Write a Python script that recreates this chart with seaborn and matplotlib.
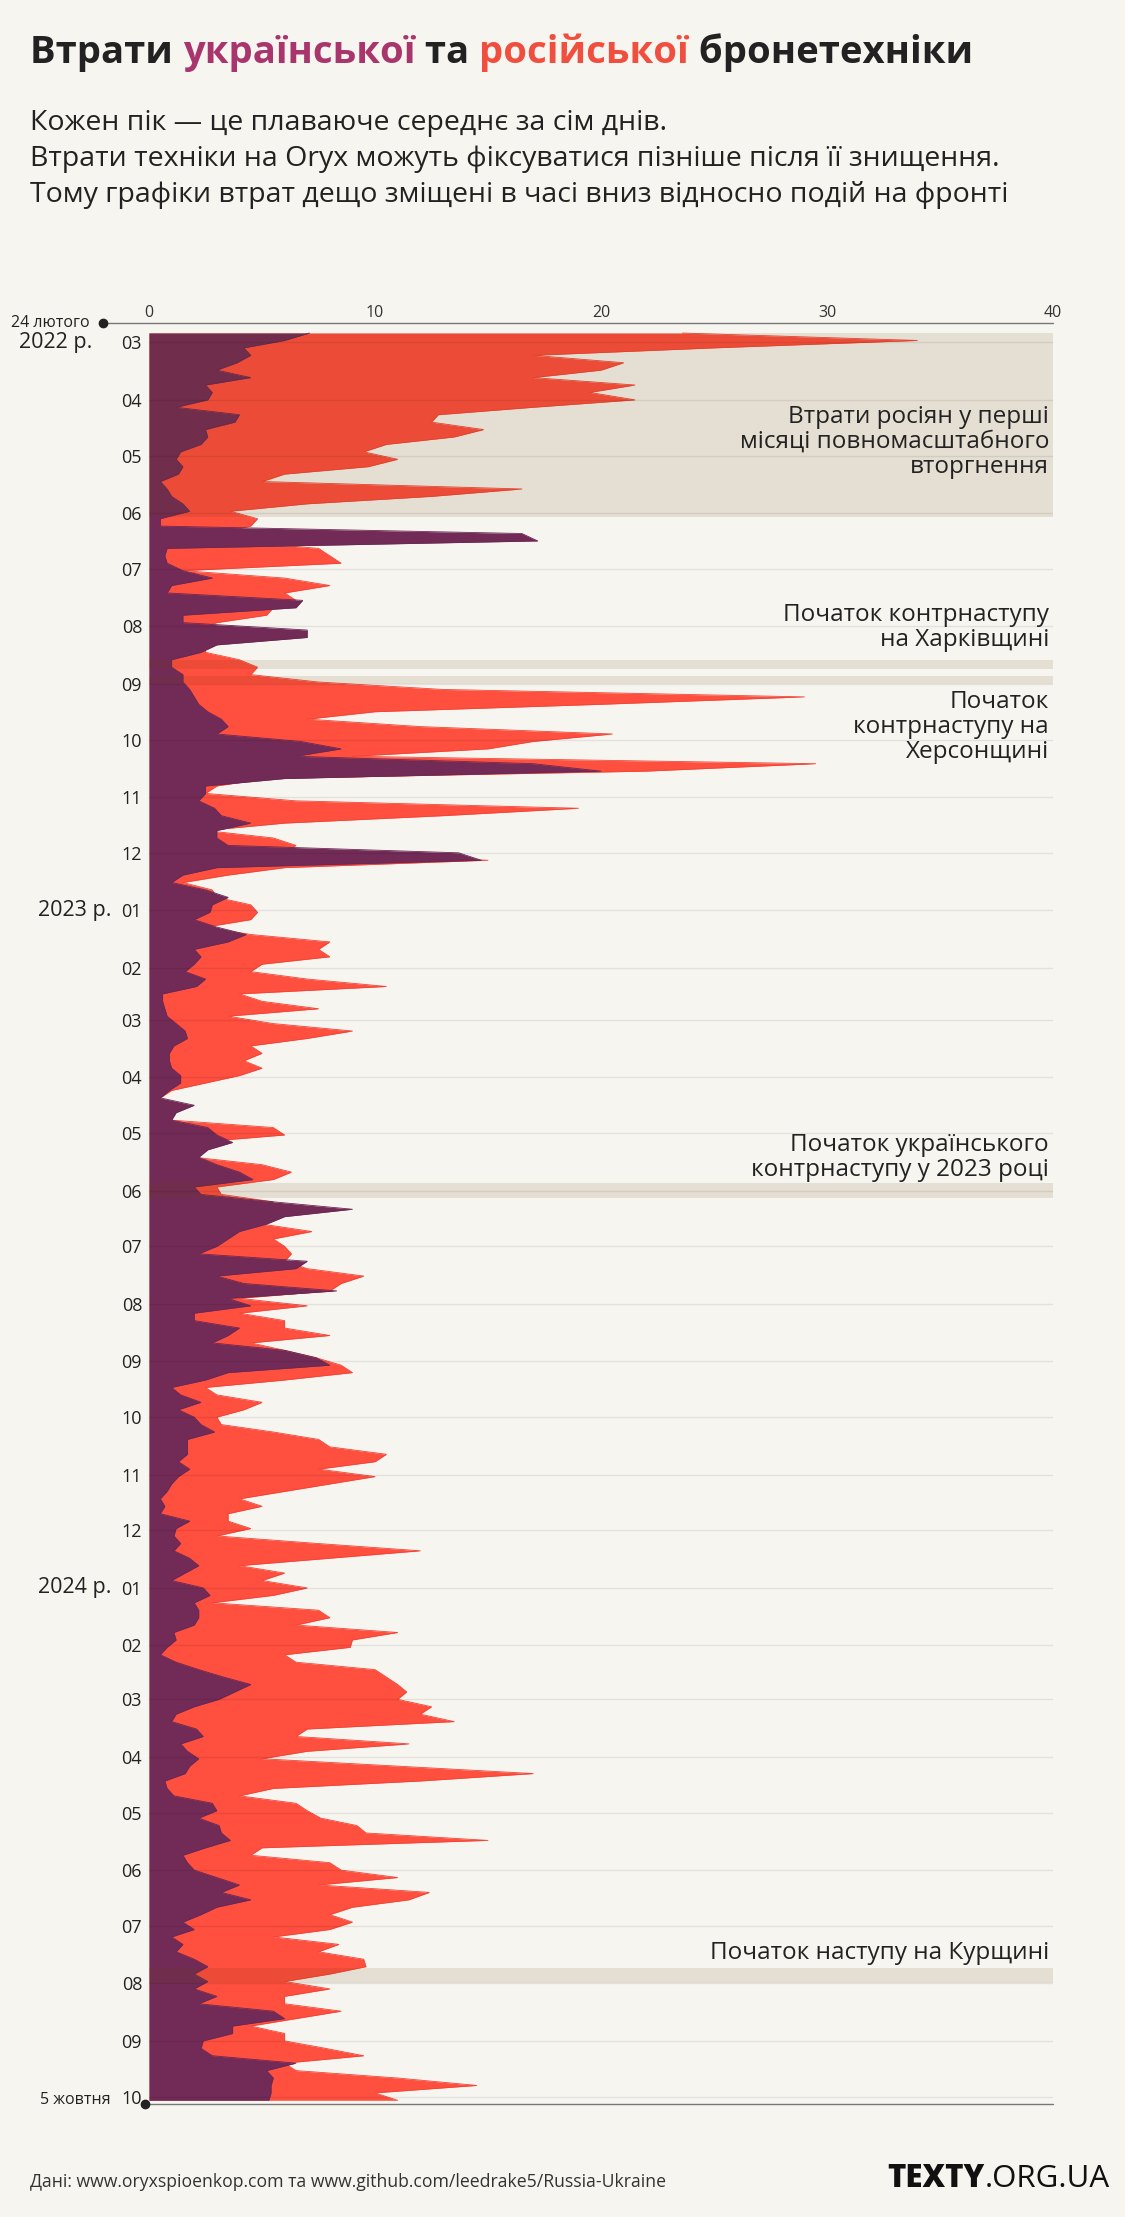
import pandas as pd
import matplotlib
matplotlib.use("Agg")
import matplotlib.pyplot as plt
import matplotlib.dates as mdates
from matplotlib.lines import Line2D
from matplotlib.transforms import blended_transform_factory
import seaborn as sns

# 7-day rolling average of destroyed armour,
# one value every 4 days starting 24 Feb 2022
russia = [
    23.6, 34, 25, 17, 21, 20, 17, 21.5, 19.5, 21.5, 17, 12.8, 12.5, 14.8, 13.5, 10.5,
    9.5, 11, 9.7, 6, 5, 16.5, 12.5, 7, 3.6, 4.8, 4.5, 3, 3.3, 7.5, 8, 8.5,
    1.5, 6, 8, 6, 6.5, 5.5, 5.2, 3, 2, 2, 2.5, 2.5, 4, 4.8, 4.5, 7.5,
    13, 29, 20, 10, 7, 12, 20.5, 17, 15, 9, 29.5, 22, 5.2, 3, 2.5, 6.5,
    19, 13, 6, 2.5, 5.5, 6.5, 6, 15, 6, 3.5, 1.5, 2.8, 3, 4.5, 4.8, 4.5,
    2.5, 4.5, 8, 7.5, 8, 5, 4.5, 7, 10.5, 4, 5, 7.5, 3.5, 5.5, 9, 7,
    4.5, 5, 4.2, 5, 4, 2.5, 1, 0.5, 0.5, 0.5, 1, 5.5, 6, 2, 1.5, 2,
    5, 6.3, 5.5, 3, 3.2, 5.5, 5, 5, 5, 7.2, 5.5, 6, 6.3, 6, 7, 9.5,
    8.5, 8, 4, 7, 4, 6, 6, 8, 4.5, 6, 7.4, 8.5, 9, 6, 2.5, 3,
    5, 4.2, 3, 3.2, 5.5, 7.5, 8, 10.5, 10, 7.5, 10, 8, 6, 4, 5, 3.5,
    3.5, 4.5, 3, 7.4, 12, 8, 4, 6, 5, 7, 5.5, 2.8, 7.5, 8, 6.5, 11,
    9, 8.9, 6, 6.5, 10, 10.5, 11, 11.4, 11, 12.5, 12, 13.5, 7, 6.5, 11.5, 7,
    5, 11, 17, 12, 5.5, 4, 6.5, 7, 7.6, 9.2, 9.6, 15, 5, 4.5, 8, 8.5,
    11, 7.5, 12.4, 11.5, 9, 8, 9, 8, 5.5, 8.4, 7.5, 9.5, 9.6, 8, 6, 8,
    6, 6, 8.5, 6.5, 4.5, 6, 6, 7.8, 9.5, 6, 6.5, 11, 14.5, 10, 11,
]
ukraine = [
    7.1, 6, 4.2, 4.5, 3.9, 3, 4.5, 2.5, 2.8, 2.6, 1.2, 4, 3.8, 2.5, 2.6, 2.3,
    1.4, 1.2, 1.5, 1.3, 0.5, 0.8, 1, 1.5, 1.8, 0.5, 0.5, 16.5, 17.2, 0.8, 0.7, 0.8,
    1.5, 2.8, 1, 0.8, 6.8, 6.5, 1.5, 1.5, 7, 7, 3, 2.3, 1, 1, 1.5, 1.5,
    1.8, 2, 2.2, 2.6, 3.2, 3.5, 3, 6.7, 8.5, 6.5, 17, 20, 6, 2.5, 2.5, 2.2,
    2.9, 3.2, 4.5, 3, 3, 3.5, 13.7, 14.7, 3, 1.5, 1, 2.5, 3.5, 2.8, 2.7, 2,
    3, 4.3, 3.5, 2, 2.3, 2, 1.6, 2.5, 2.1, 0.6, 0.6, 0.7, 0.8, 1.2, 1.6, 1.7,
    1.1, 0.9, 0.9, 1, 1.4, 1.4, 0.9, 0.5, 2, 1.2, 1, 2.6, 3, 3.7, 2.6, 2.2,
    3, 4, 4.6, 2, 2.3, 5.5, 9, 6, 5.2, 4, 3.5, 3, 2.2, 7, 6.5, 3,
    4.2, 8.3, 3.5, 4.5, 2, 2, 4, 3.5, 2.8, 6, 7.4, 8, 3.5, 2.5, 1, 1.4,
    2.3, 1.3, 2, 2.3, 2.9, 1.7, 1.7, 1.7, 1.3, 1.8, 1.3, 1, 0.8, 0.5, 0.7, 0.5,
    1.8, 1.2, 1.1, 1.4, 1.1, 1.8, 2.2, 1.6, 1, 2.4, 2.7, 2, 2.2, 2.2, 2, 1.1,
    1.2, 0.8, 0.5, 1.2, 2.2, 3.3, 4.5, 3.8, 3.1, 2, 1.2, 1, 2.1, 2.4, 1.4, 1.7,
    2.2, 1.8, 1.6, 0.7, 0.8, 1.1, 2.8, 3, 2.2, 3.1, 3.2, 3.6, 2.5, 1.5, 1.7, 2,
    3, 4, 3.2, 4.5, 3, 2.3, 1.5, 2, 1, 1.5, 1.2, 2, 2.6, 2, 2.6, 2,
    3, 2.2, 5.5, 6, 3.7, 3.7, 2.4, 2.3, 2.8, 6.5, 5.2, 5.5, 5.4, 5.4, 5.3,
]
assert len(russia) == len(ukraine)

start = pd.Timestamp("2022-02-24")
end = pd.Timestamp("2024-10-05")
dates = pd.date_range(start, periods=len(russia), freq="4D")
months = pd.date_range("2022-03-01", "2024-10-01", freq="MS")
month_labels = [f"{d.month:02d}" for d in months]
year_labels = [("2022-03-01", "2022 р.", 92), ("2023-01-01", "2023 р.", 111),
               ("2024-01-01", "2024 р.", 111)]
x_ticks = [0, 10, 20, 30, 40]

# highlighted periods
bands = [
    ("2022-02-24", "2022-06-03"),
    ("2022-08-19", "2022-08-24"),
    ("2022-08-28", "2022-09-01"),
    ("2023-05-28", "2023-06-05"),
    ("2024-07-24", "2024-08-01"),
]

BG = "#f7f5f0"
PURPLE = "#722b57"
RED = "#ff4f3f"
TXT = "#222222"

sns.set_style("white", {"axes.facecolor": BG, "figure.facecolor": BG})
plt.rcParams["font.family"] = ["Open Sans", "DejaVu Sans"]

W, H = 1125, 2217
fig = plt.figure(figsize=(W / 100, H / 100), dpi=100)
fig.patch.set_facecolor(BG)


def fx(px):
    return px / W


def fy(py):
    return 1 - py / H


# axes: x 0..40 spans px 149..1053, y spans px 323..2104
ax = fig.add_axes([fx(149), fy(2104), fx(1053) - fx(149), fy(323) - fy(2104)])
ax.set_facecolor(BG)

y = mdates.date2num(dates)
ax.fill_betweenx(y, 0, russia, color=RED, lw=0, zorder=1)
sns.lineplot(x=russia, y=y, orient="y", sort=False, estimator=None,
             color="#f04535", lw=0.6, ax=ax, zorder=1.1)
ax.fill_betweenx(y, 0, ukraine, color=PURPLE, lw=0, zorder=2)
sns.lineplot(x=ukraine, y=y, orient="y", sort=False, estimator=None,
             color="#6a2852", lw=0.6, ax=ax, zorder=2.1)

# shaded periods, a darkening overlay like a multiply blend
for b0, b1 in bands:
    ax.axhspan(mdates.date2num(pd.Timestamp(b0)), mdates.date2num(pd.Timestamp(b1)),
               color="#693e00", alpha=0.12, lw=0, zorder=3)

for d in months:
    ax.axhline(mdates.date2num(d), color="#000000", alpha=0.08, lw=1, zorder=4)

ax.set_xlim(0, 40)
ax.set_ylim(mdates.date2num(end), mdates.date2num(start) - 5.4)
for s in ax.spines.values():
    s.set_visible(False)

ax.xaxis.tick_top()
ax.set_xticks(x_ticks)
ax.set_xticklabels([str(v) for v in x_ticks])
ax.tick_params(axis="x", length=0, pad=1.5, labelsize=11.5, labelcolor="#333333")
ax.set_yticks(mdates.date2num(months))
ax.set_yticklabels(month_labels)
ax.tick_params(axis="y", length=0, pad=5, labelsize=13, labelcolor=TXT)
ax.set_xlabel("")
ax.set_ylabel("")

# year labels (x in figure pixels, y in dates)
year_tr = blended_transform_factory(fig.transFigure, ax.transData)
for d, lab, xr in year_labels:
    ax.text(fx(xr), mdates.date2num(pd.Timestamp(d)), lab, transform=year_tr,
            ha="right", va="center", fontsize=15.5, color=TXT)

# top and bottom time axis lines with dots
fig.add_artist(Line2D([fx(103), fx(1053)], [fy(323), fy(323)], color="#777777", lw=1))
fig.add_artist(Line2D([fx(103)], [fy(323)], marker="o", ms=6, color="#222222"))
fig.add_artist(Line2D([fx(145), fx(1053)], [fy(2104), fy(2104)], color="#777777", lw=1))
fig.add_artist(Line2D([fx(145)], [fy(2104)], marker="o", ms=6, color="#222222"))
fig.text(fx(90), fy(323), "24 лютого", ha="right", va="center", fontsize=11.5, color=TXT)
fig.text(fx(111), fy(2100), "5 жовтня", ha="right", va="center", fontsize=11.5, color=TXT)

# annotations
notes = [
    (["Втрати росіян у перші", "місяці повномасштабного", "вторгнення"], 423),
    (["Початок контрнаступу", "на Харківщині"], 621),
    (["Початок", "контрнаступу на", "Херсонщині"], 708),
    (["Початок українського", "контрнаступу у 2023 році"], 1151),
    (["Початок наступу на Курщині"], 1959),
]
for lines, base in notes:
    for i, line in enumerate(lines):
        fig.text(fx(1049), fy(base + 25 * i), line, ha="right", va="baseline",
                 fontsize=17.5, color=TXT)

# title with coloured words
renderer = fig.canvas.get_renderer()


def put_parts(x, ypx, parts, **kw):
    for s, c in parts:
        t = fig.text(x, fy(ypx), s, color=c, va="baseline", **kw)
        x += t.get_window_extent(renderer).width / W
    return x


put_parts(fx(30), 63, [("Втрати ", TXT), ("української", "#a8366c"), (" та ", TXT),
                       ("російської", "#f04f3f"), (" бронетехніки", TXT)],
          fontsize=27.5, fontweight="bold")

subtitle = [
    "Кожен пік — це плаваюче середнє за сім днів.",
    "Втрати техніки на Oryx можуть фіксуватися пізніше після її знищення.",
    "Тому графіки втрат дещо зміщені в часі вниз відносно подій на фронті",
]
for i, line in enumerate(subtitle):
    fig.text(fx(30), fy(130 + 36 * i), line, va="baseline", fontsize=20.5, color=TXT)

fig.text(fx(30), fy(2187), "Дані: www.oryxspioenkop.com та www.github.com/leedrake5/Russia-Ukraine",
         va="baseline", fontsize=12.7, color="#333333")

# logo
t2 = fig.text(fx(1110), fy(2187), ".ORG.UA", ha="right", va="baseline",
              fontsize=22.5, color="#111111")
w2 = t2.get_window_extent(renderer).width
fig.text(fx(1110 - w2), fy(2187), "TEXTY", ha="right", va="baseline",
         fontsize=22.5, fontweight="heavy", color="#111111")

fig.savefig("out.png", dpi=100, facecolor=BG)
